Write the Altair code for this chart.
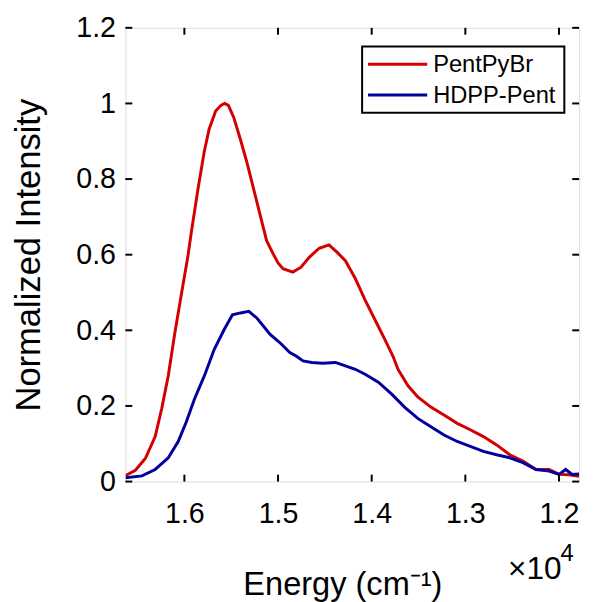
import altair as alt
import pandas as pd

# ---- data ----
red_energy = [16628, 16523, 16417, 16312, 16242, 16172, 16102, 16031, 15960, 15929,
              15859, 15789, 15736, 15666, 15610, 15570, 15530, 15473, 15403, 15333,
              15263, 15192, 15122, 15052, 15000, 14947, 14842, 14754, 14667, 14561,
              14456, 14368, 14281, 14175, 14070, 13965, 13860, 13770, 13719, 13614,
              13508, 13368, 13228, 13087, 12947, 12807, 12666, 12526, 12385, 12245,
              12105, 11999, 11894, 11785]
red_intensity = [0.016, 0.030, 0.061, 0.119, 0.193, 0.280, 0.393, 0.497, 0.600, 0.654,
                 0.767, 0.871, 0.932, 0.980, 0.995, 1.0, 0.995, 0.963, 0.906, 0.845,
                 0.776, 0.706, 0.637, 0.602, 0.578, 0.563, 0.554, 0.567, 0.593, 0.617,
                 0.626, 0.606, 0.584, 0.537, 0.480, 0.428, 0.376, 0.330, 0.297, 0.254,
                 0.224, 0.197, 0.176, 0.154, 0.137, 0.119, 0.097, 0.071, 0.054, 0.032,
                 0.032, 0.019, 0.018, 0.014]

blue_energy = [16628, 16453, 16312, 16172, 16066, 15979, 15891, 15786, 15681, 15575,
               15487, 15400, 15312, 15224, 15084, 14979, 14874, 14807, 14733, 14640,
               14523, 14386, 14281, 14175, 14070, 13929, 13789, 13649, 13508, 13368,
               13228, 13087, 12947, 12807, 12666, 12526, 12385, 12245, 12105, 11999,
               11929, 11859, 11785]
blue_intensity = [0.010, 0.015, 0.032, 0.063, 0.106, 0.158, 0.219, 0.280, 0.350, 0.402,
                  0.441, 0.446, 0.450, 0.432, 0.389, 0.367, 0.341, 0.332, 0.319, 0.315,
                  0.313, 0.315, 0.306, 0.297, 0.284, 0.263, 0.232, 0.197, 0.167, 0.145,
                  0.123, 0.106, 0.093, 0.080, 0.071, 0.063, 0.050, 0.032, 0.028, 0.019,
                  0.032, 0.019, 0.020]

series_names = ["PentPyBr", "HDPP-Pent"]
series_colors = ["#d40000", "#00009e"]

x_ticks = [16000, 15000, 14000, 13000, 12000]
y_ticks = [0, 0.2, 0.4, 0.6, 0.8, 1, 1.2]
x_domain = [11785, 16630]
y_domain = [0, 1.2]

# ---- build tables ----
df = pd.concat([
    pd.DataFrame({"energy": red_energy, "intensity": red_intensity,
                  "series": series_names[0], "order": range(len(red_energy))}),
    pd.DataFrame({"energy": blue_energy, "intensity": blue_intensity,
                  "series": series_names[1], "order": range(len(blue_energy))}),
])
xt = pd.DataFrame({"v": x_ticks})
yt = pd.DataFrame({"v": y_ticks})
one = pd.DataFrame({"k": [0]})

FONT = "Liberation Sans"
W = H = 460
TL = 7

xscale = alt.Scale(domain=x_domain, reverse=True, nice=False, zero=False)
yscale = alt.Scale(domain=y_domain, nice=False)

lines = alt.Chart(df).mark_line(strokeWidth=3, clip=True).encode(
    x=alt.X("energy:Q", scale=xscale,
            axis=alt.Axis(values=x_ticks, labelExpr="format(datum.value/10000, '.1f')",
                          ticks=False, tickSize=0, domain=False, grid=False,
                          labelFontSize=29, labelPadding=19, labelFont=FONT, labelColor="black",
                          title="Energy (cm⁻¹)", titleFont=FONT, titleFontSize=33,
                          titleFontWeight="normal", titleColor="black",
                          titleX=220, titleY=114, titleBaseline="alphabetic")),
    y=alt.Y("intensity:Q", scale=yscale,
            axis=alt.Axis(values=y_ticks, labelExpr="format(datum.value, '~g')",
                          ticks=False, tickSize=0, domain=False, grid=False,
                          labelFontSize=29, labelPadding=10, labelFont=FONT, labelColor="black",
                          title="Normalized Intensity", titleFont=FONT, titleFontSize=35,
                          titleFontWeight="normal", titleColor="black",
                          titleX=-87, titleY=230, titleBaseline="alphabetic")),
    color=alt.Color("series:N", scale=alt.Scale(domain=series_names, range=series_colors),
                    legend=None),
    order="order:Q",
)

rule = dict(color="black", strokeWidth=2)
xb = alt.Chart(xt).mark_rule(**rule).encode(
    x=alt.X("v:Q", scale=xscale), y=alt.value(H), y2=alt.value(H - TL))
xtop = alt.Chart(xt).mark_rule(**rule).encode(
    x=alt.X("v:Q", scale=xscale), y=alt.value(0), y2=alt.value(TL))
yl = alt.Chart(yt).mark_rule(**rule).encode(
    y=alt.Y("v:Q", scale=yscale), x=alt.value(0), x2=alt.value(TL))
yr = alt.Chart(yt).mark_rule(**rule).encode(
    y=alt.Y("v:Q", scale=yscale), x=alt.value(W), x2=alt.value(W - TL))

# ---- legend (box, line samples, labels) ----
leg_box = alt.Chart(one).mark_rect(fill="white", stroke="black", strokeWidth=2).encode(
    x=alt.value(240), x2=alt.value(445), y=alt.value(19), y2=alt.value(86))
leg_layers = []
for i, (name, col) in enumerate(zip(series_names, series_colors)):
    yy = 37 + 31 * i
    leg_layers.append(alt.Chart(one).mark_rule(strokeWidth=3, color=col).encode(
        x=alt.value(246), x2=alt.value(306), y=alt.value(yy)))
    leg_layers.append(alt.Chart(pd.DataFrame({"t": [name]})).mark_text(
        align="left", baseline="middle", fontSize=24, font=FONT, color="black").encode(
        text="t:N", x=alt.value(312), y=alt.value(yy + 1)))

mult = alt.Chart(pd.DataFrame({"t": ["×10"]})).mark_text(
    align="left", baseline="alphabetic", fontSize=32, font=FONT, color="black").encode(
    text="t:N", x=alt.value(388), y=alt.value(H + 99))
mult_exp = alt.Chart(pd.DataFrame({"t": ["4"]})).mark_text(
    align="left", baseline="alphabetic", fontSize=24, font=FONT, color="black").encode(
    text="t:N", x=alt.value(441), y=alt.value(H + 81))

chart = alt.layer(lines, xb, xtop, yl, yr, leg_box, *leg_layers, mult, mult_exp).properties(
    width=W, height=H,
    autosize=alt.AutoSizeParams(type="none"),
    padding={"left": 119, "top": 16, "right": 9, "bottom": 118},
).configure_view(stroke="black", strokeWidth=2).configure(background="white")

chart.save("out.html", embed_options={"renderer": "svg", "actions": False})
